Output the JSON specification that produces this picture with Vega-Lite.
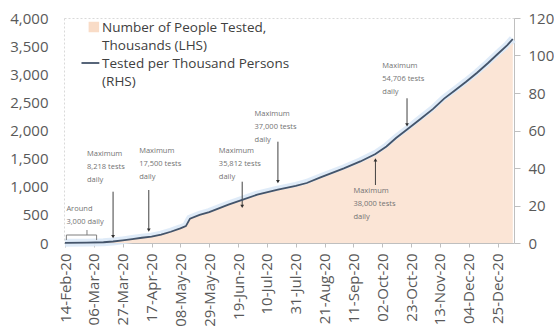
{
  "$schema": "https://vega.github.io/schema/vega-lite/v6.json",
  "width": 450,
  "height": 225,
  "autosize": {"type": "none"},
  "padding": {"left": 64, "top": 18, "right": 40, "bottom": 90},
  "background": "white",
  "config": {
    "font": "Open Sans",
    "view": {"stroke": "#d9d9d9", "strokeDash": [2, 2], "strokeWidth": 1},
    "axis": {"labelFont": "Open Sans", "labelFontSize": 15, "labelColor": "#595959", "grid": false, "domainColor": "#bfbfbf", "tickColor": "#bfbfbf"}
  },
  "datasets": {
    "series": [
      {"date": "2020-02-14", "tested": 3, "perThousand": 0.1},
      {"date": "2020-03-01", "tested": 7, "perThousand": 0.2},
      {"date": "2020-03-13", "tested": 13, "perThousand": 0.4},
      {"date": "2020-03-20", "tested": 26, "perThousand": 0.8},
      {"date": "2020-03-27", "tested": 46, "perThousand": 1.4},
      {"date": "2020-04-03", "tested": 69, "perThousand": 2.1},
      {"date": "2020-04-10", "tested": 92, "perThousand": 2.8},
      {"date": "2020-04-17", "tested": 111, "perThousand": 3.4},
      {"date": "2020-04-24", "tested": 147, "perThousand": 4.5},
      {"date": "2020-05-01", "tested": 196, "perThousand": 6.0},
      {"date": "2020-05-08", "tested": 255, "perThousand": 7.8},
      {"date": "2020-05-12", "tested": 294, "perThousand": 9.0},
      {"date": "2020-05-15", "tested": 425, "perThousand": 13.0},
      {"date": "2020-05-22", "tested": 491, "perThousand": 15.0},
      {"date": "2020-05-29", "tested": 540, "perThousand": 16.5},
      {"date": "2020-06-12", "tested": 670, "perThousand": 20.5},
      {"date": "2020-06-22", "tested": 752, "perThousand": 23.0},
      {"date": "2020-07-03", "tested": 844, "perThousand": 25.8},
      {"date": "2020-07-18", "tested": 932, "perThousand": 28.5},
      {"date": "2020-07-31", "tested": 997, "perThousand": 30.5},
      {"date": "2020-08-08", "tested": 1046, "perThousand": 32.0},
      {"date": "2020-08-18", "tested": 1145, "perThousand": 35.0},
      {"date": "2020-09-04", "tested": 1301, "perThousand": 39.8},
      {"date": "2020-09-16", "tested": 1422, "perThousand": 43.5},
      {"date": "2020-09-27", "tested": 1553, "perThousand": 47.5},
      {"date": "2020-10-05", "tested": 1684, "perThousand": 51.5},
      {"date": "2020-10-12", "tested": 1831, "perThousand": 56.0},
      {"date": "2020-10-20", "tested": 1978, "perThousand": 60.5},
      {"date": "2020-10-30", "tested": 2168, "perThousand": 66.3},
      {"date": "2020-11-08", "tested": 2338, "perThousand": 71.5},
      {"date": "2020-11-16", "tested": 2518, "perThousand": 77.0},
      {"date": "2020-11-24", "tested": 2665, "perThousand": 81.5},
      {"date": "2020-12-02", "tested": 2812, "perThousand": 86.0},
      {"date": "2020-12-10", "tested": 2969, "perThousand": 90.8},
      {"date": "2020-12-18", "tested": 3139, "perThousand": 96.0},
      {"date": "2020-12-25", "tested": 3296, "perThousand": 100.8},
      {"date": "2021-01-01", "tested": 3450, "perThousand": 105.5},
      {"date": "2021-01-05", "tested": 3558, "perThousand": 108.8}
    ],
    "notes": [
      {"date": "2020-02-15", "value": 667, "label": "Around\n3,000 daily"},
      {"date": "2020-03-01", "value": 1645, "label": "Maximum\n8,218 tests\ndaily"},
      {"date": "2020-04-08", "value": 1698, "label": "Maximum\n17,500 tests\ndaily"},
      {"date": "2020-06-05", "value": 1698, "label": "Maximum\n35,812 tests\ndaily"},
      {"date": "2020-07-01", "value": 2356, "label": "Maximum\n37,000 tests\ndaily"},
      {"date": "2020-09-11", "value": 987, "label": "Maximum\n38,000 tests\ndaily"},
      {"date": "2020-10-02", "value": 3209, "label": "Maximum\n54,706 tests\ndaily"}
    ],
    "arrows": [
      {"date": "2020-03-20", "from": 912, "to": 112, "dir": "down"},
      {"date": "2020-04-15", "from": 942, "to": 231, "dir": "down"},
      {"date": "2020-06-22", "from": 1090, "to": 650, "dir": "down"},
      {"date": "2020-07-18", "from": 1801, "to": 1090, "dir": "down"},
      {"date": "2020-09-27", "from": 1031, "to": 1476, "dir": "up"},
      {"date": "2020-10-20", "from": 2573, "to": 2098, "dir": "down"}
    ],
    "bracket": [
      {"date": "2020-02-15", "date2": "2020-03-08", "v1": 142, "v2": 142},
      {"date": "2020-02-15", "date2": "2020-02-15", "v1": 142, "v2": 53},
      {"date": "2020-03-08", "date2": "2020-03-08", "v1": 142, "v2": 53},
      {"date": "2020-03-01", "date2": "2020-03-01", "v1": 142, "v2": 231}
    ],
    "legendText": [
      {"date": "2020-03-12", "value": 3947, "label": "Number of People Tested,\nThousands (LHS)"},
      {"date": "2020-03-12", "value": 3310, "label": "Tested per Thousand Persons\n(RHS)"}
    ],
    "legendArea": [{"date": "2020-03-06", "value": 3840, "series": "Number of People Tested, Thousands (LHS)"}],
    "legendLine": [{"date": "2020-02-26", "date2": "2020-03-10", "value": 3200, "series": "Tested per Thousand Persons (RHS)"}]
  },
  "encoding": {
    "x": {
      "field": "date",
      "type": "temporal",
      "title": null,
      "scale": {"type": "utc", "nice": false, "domain": [
        {"year": 2020, "month": "feb", "date": 13, "hours": 6, "minutes": 30, "utc": true},
        {"year": 2021, "month": "jan", "date": 5, "hours": 21, "utc": true}
      ]},
      "axis": {
        "format": "%d-%b-%y",
        "labelAngle": -90,
        "labelPadding": 6,
        "tickSize": 4,
        "labelFontSize": 15,
        "values": [
          {"year": 2020, "month": "feb", "date": 14, "utc": true},
          {"year": 2020, "month": "mar", "date": 6, "utc": true},
          {"year": 2020, "month": "mar", "date": 27, "utc": true},
          {"year": 2020, "month": "apr", "date": 17, "utc": true},
          {"year": 2020, "month": "may", "date": 8, "utc": true},
          {"year": 2020, "month": "may", "date": 29, "utc": true},
          {"year": 2020, "month": "jun", "date": 19, "utc": true},
          {"year": 2020, "month": "jul", "date": 10, "utc": true},
          {"year": 2020, "month": "jul", "date": 31, "utc": true},
          {"year": 2020, "month": "aug", "date": 21, "utc": true},
          {"year": 2020, "month": "sep", "date": 11, "utc": true},
          {"year": 2020, "month": "oct", "date": 2, "utc": true},
          {"year": 2020, "month": "oct", "date": 23, "utc": true},
          {"year": 2020, "month": "nov", "date": 13, "utc": true},
          {"year": 2020, "month": "dec", "date": 4, "utc": true},
          {"year": 2020, "month": "dec", "date": 25, "utc": true}
        ]
      }
    }
  },
  "layer": [
    {
      "data": {"name": "series"},
      "mark": {"type": "line", "color": "#dbe9f7", "strokeWidth": 8, "opacity": 0.9},
      "encoding": {"y": {"field": "perThousand", "type": "quantitative", "scale": {"domain": [0, 120]}, "axis": null}}
    },
    {
      "layer": [
        {
          "data": {"name": "series"},
          "mark": {"type": "area", "color": "#fbe5d6", "opacity": 1},
          "encoding": {"y": {"field": "tested", "type": "quantitative", "title": null, "scale": {"domain": [0, 4000], "nice": false}, "axis": {"orient": "left", "title": null, "values": [0, 500, 1000, 1500, 2000, 2500, 3000, 3500, 4000], "format": ",.0f", "domain": false, "ticks": false, "labelPadding": 16}}}
        },
        {
          "data": {"name": "notes"},
          "mark": {"type": "text", "align": "left", "baseline": "top", "fontSize": 7.5, "lineHeight": 13, "color": "#737373", "lineBreak": "\n"},
          "encoding": {"y": {"field": "value", "type": "quantitative", "title": null, "axis": {"orient": "left", "title": null, "values": [0, 500, 1000, 1500, 2000, 2500, 3000, 3500, 4000], "format": ",.0f", "domain": false, "ticks": false, "labelPadding": 16}}, "text": {"field": "label"}}
        },
        {
          "data": {"name": "arrows"},
          "mark": {"type": "rule", "color": "#404040", "strokeWidth": 1},
          "encoding": {"y": {"field": "from", "type": "quantitative", "title": null, "axis": {"orient": "left", "title": null, "values": [0, 500, 1000, 1500, 2000, 2500, 3000, 3500, 4000], "format": ",.0f", "domain": false, "ticks": false, "labelPadding": 16}}, "y2": {"field": "to"}}
        },
        {
          "data": {"name": "arrows"},
          "mark": {"type": "point", "filled": true, "color": "#303030", "size": 14, "opacity": 1},
          "encoding": {"y": {"field": "to", "type": "quantitative", "title": null, "axis": {"orient": "left", "title": null, "values": [0, 500, 1000, 1500, 2000, 2500, 3000, 3500, 4000], "format": ",.0f", "domain": false, "ticks": false, "labelPadding": 16}}, "shape": {"field": "dir", "type": "nominal", "scale": {"domain": ["down", "up"], "range": ["triangle-down", "triangle-up"]}, "legend": null}}
        },
        {
          "data": {"name": "bracket"},
          "mark": {"type": "rule", "color": "#7f7f7f", "strokeWidth": 1},
          "encoding": {"x2": {"field": "date2"}, "y": {"field": "v1", "type": "quantitative", "title": null, "axis": {"orient": "left", "title": null, "values": [0, 500, 1000, 1500, 2000, 2500, 3000, 3500, 4000], "format": ",.0f", "domain": false, "ticks": false, "labelPadding": 16}}, "y2": {"field": "v2"}}
        },
        {
          "data": {"name": "legendArea"},
          "mark": {"type": "point", "shape": "square", "filled": true, "color": "#f9dcc7", "size": 110, "opacity": 1},
          "encoding": {"y": {"field": "value", "type": "quantitative", "title": null, "axis": {"orient": "left", "title": null, "values": [0, 500, 1000, 1500, 2000, 2500, 3000, 3500, 4000], "format": ",.0f", "domain": false, "ticks": false, "labelPadding": 16}}}
        },
        {
          "data": {"name": "legendLine"},
          "mark": {"type": "rule", "color": "#44546a", "strokeWidth": 1.8},
          "encoding": {"x2": {"field": "date2"}, "y": {"field": "value", "type": "quantitative", "title": null, "axis": {"orient": "left", "title": null, "values": [0, 500, 1000, 1500, 2000, 2500, 3000, 3500, 4000], "format": ",.0f", "domain": false, "ticks": false, "labelPadding": 16}}}
        },
        {
          "data": {"name": "legendText"},
          "mark": {"type": "text", "align": "left", "baseline": "top", "fontSize": 13.5, "lineHeight": 18, "color": "#404040", "lineBreak": "\n"},
          "encoding": {"y": {"field": "value", "type": "quantitative", "title": null, "axis": {"orient": "left", "title": null, "values": [0, 500, 1000, 1500, 2000, 2500, 3000, 3500, 4000], "format": ",.0f", "domain": false, "ticks": false, "labelPadding": 16}}, "text": {"field": "label"}}
        }
      ]
    },
    {
      "data": {"name": "series"},
      "mark": {"type": "line", "color": "#44546a", "strokeWidth": 1.8},
      "encoding": {"y": {"field": "perThousand", "type": "quantitative", "title": null, "scale": {"domain": [0, 120], "nice": false}, "axis": {"orient": "right", "title": null, "values": [0, 20, 40, 60, 80, 100, 120], "tickSize": 6, "labelPadding": 8}}}
    }
  ],
  "resolve": {"scale": {"y": "independent"}, "axis": {"y": "independent"}}
}
